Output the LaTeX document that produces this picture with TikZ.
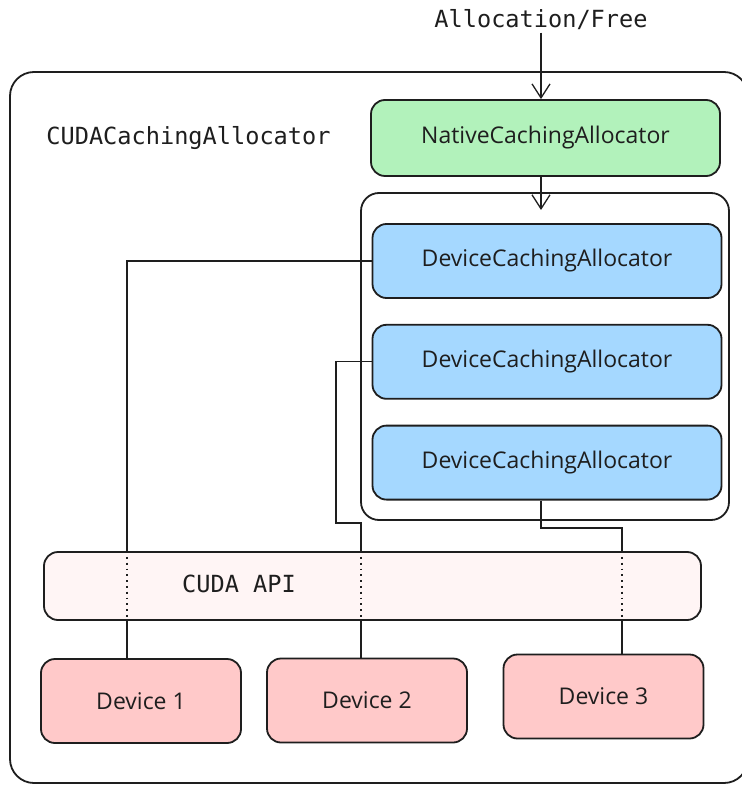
\documentclass[tikz,border=0pt]{standalone}
\usepackage{fontspec}
\usepackage{xcolor}
\usepackage{tikz}
\usetikzlibrary{positioning,arrows.meta,fit,calc}
\newfontfamily\handfont{Open Sans}
\newfontfamily\codefont{DejaVu Sans Mono}
\definecolor{caInk}{HTML}{1E1E1E}
\definecolor{caGreen}{HTML}{B2F2BB}
\definecolor{caBlue}{HTML}{A5D8FF}
\definecolor{caRed}{HTML}{FFC9C9}
\definecolor{caRose}{HTML}{FFF5F5}
\definecolor{caWhite}{HTML}{FFFFFF}
\tikzset{
  ca-box/.style={
    draw=caInk, line width=0.9pt, rounded corners=7pt,
    font=\handfont\fontsize{11.5}{14}\selectfont, text=caInk,
    align=center, inner sep=3pt,
    minimum width=174.5pt, minimum height=37pt
  },
  ca-green/.style={ca-box, fill=caGreen, minimum height=38pt},
  ca-blue/.style={ca-box, fill=caBlue},
  ca-red/.style={ca-box, fill=caRed, minimum width=100pt, minimum height=42pt},
  ca-api/.style={ca-box, fill=caRose, minimum width=328.5pt, minimum height=34pt},
  ca-frame/.style={draw=caInk, line width=0.9pt, rounded corners=9pt, inner sep=0pt},
  ca-code/.style={font=\codefont\fontsize{11.8}{14}\selectfont, text=caInk, inner sep=1pt},
  ca-flow/.style={-{Straight Barb[length=7pt,width=9pt]}, line width=0.65pt, draw=caInk},
  ca-wire/.style={line width=0.65pt, draw=caInk},
  ca-via/.style={line width=0.9pt, draw=caInk, dotted}
}
\begin{document}
\begin{tikzpicture}[x=0.5pt, y=-0.5pt]
\useasboundingbox[fill=caWhite] (0,0) rectangle (741,785);

% frames
\node[ca-frame, rounded corners=12pt, fit={(10,72) (748,783)}] (outer) {};
\node[ca-frame, fit={(361,193) (729,520)}] (pool) {};

% allocators
\node[ca-code] (req) at (541,20) {Allocation/Free};
\node[ca-code, anchor=west] (title) at (44,138) {CUDACachingAllocator};
\node[ca-green] (native) at (545.5,138) {NativeCachingAllocator};
\node[ca-blue] (dev-a) at (547,261) {DeviceCachingAllocator};
\node[ca-blue, below=12.5pt of dev-a] (dev-b) {DeviceCachingAllocator};
\node[ca-blue, below=12.5pt of dev-b] (dev-c) {DeviceCachingAllocator};

% driver + devices
\node[ca-api] (api) at (372.5,586) {};
\node[ca-code] (api-lbl) at (239,584) {CUDA API};
\node[ca-red] (gpu1) at (141,701) {Device 1};
\node[ca-red] (gpu2) at (367,700.5) {Device 2};
\node[ca-red] (gpu3) at (603.5,696.5) {Device 3};

% routing points
\coordinate (pool-in) at (541,210);
\coordinate (w1) at (127,0);
\coordinate (w2) at (361,0);
\coordinate (w3) at (622,0);
\coordinate (bend2) at (336,523);
\coordinate (bend3) at (541,528);

\draw[ca-flow] (req.south) -- (req.south |- native.north);
\draw[ca-flow] (native.south -| pool-in) -- (pool-in);

\draw[ca-wire] (dev-a.west) -| (api.north -| w1);
\draw[ca-wire] (dev-b.west) -| (bend2) -| (api.north -| w2);
\draw[ca-wire] (dev-c.south -| bend3) -- (bend3) -| (api.north -| w3);
\draw[ca-via] (api.north -| w1) -- (api.south -| w1);
\draw[ca-via] (api.north -| w2) -- (api.south -| w2);
\draw[ca-via] (api.north -| w3) -- (api.south -| w3);
\draw[ca-wire, line width=0.9pt] (api.south -| w1) -- (gpu1.north -| w1);
\draw[ca-wire, line width=0.9pt] (api.south -| w2) -- (gpu2.north -| w2);
\draw[ca-wire, line width=0.9pt] (api.south -| w3) -- (gpu3.north -| w3);
\end{tikzpicture}
\end{document}
